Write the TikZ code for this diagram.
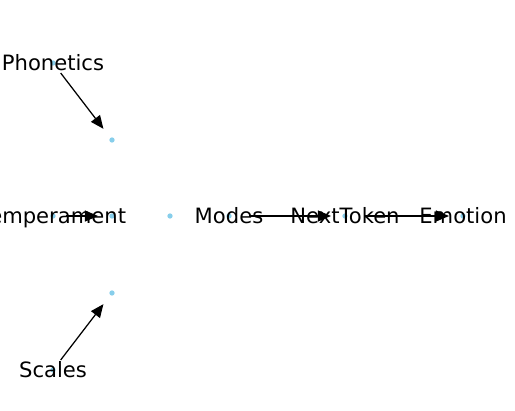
\documentclass[tikz,border=0pt]{standalone}
\usepackage{fontspec}
\setmainfont{DejaVu Sans}
\usepackage{xcolor}
\usetikzlibrary{arrows.meta}
\definecolor{skyblue}{RGB}{135,206,235}

\begin{document}
\begin{tikzpicture}[x=0.72pt,y=-0.72pt,
	vertex/.style={circle,fill=skyblue,inner sep=0pt,minimum size=3.8pt},
	word/.style={inner sep=0pt,text height=14.4pt,text depth=3.4pt,font=\fontsize{15.2}{18}\selectfont},
	edge/.style={-{Triangle[length=9.5pt,width=8pt]},line width=0.9pt,shorten >=8pt,shorten <=7pt}]
	\useasboundingbox (0,0) rectangle (515,411);
	% dots
	\node[vertex] (phon) at (53,63) {};
	\node[vertex] (scal) at (53,370) {};
	\node[vertex] (temp) at (53,216) {};
	\node[vertex] (p1) at (112,140) {};
	\node[vertex] (t1) at (112,216) {};
	\node[vertex] (s1) at (112,293) {};
	\node[vertex] (iso) at (170,216) {};
	\node[vertex] (mode) at (229,216) {};
	\node[vertex] (next) at (345,216) {};
	\node[vertex] (emot) at (463,216) {};
	% edges
	\draw[edge] (phon) -- (p1);
	\draw[edge] (scal) -- (s1);
	\draw[edge] (temp) -- (t1);
	\draw[edge,shorten <=12.5pt] (mode) -- (next);
	\draw[edge,shorten <=12.5pt] (next) -- (emot);
	% labels
	\node[word] (phonlbl) at (phon) {Phonetics};
	\node[word] (scallbl) at (scal) {Scales};
	\node[word] (templbl) at (temp) {Temperament};
	\node[word] (modelbl) at (mode) {Modes};
	\node[word] (nextlbl) at (next) {NextToken};
	\node[word] (emotlbl) at (emot) {Emotion};
\end{tikzpicture}
\end{document}
